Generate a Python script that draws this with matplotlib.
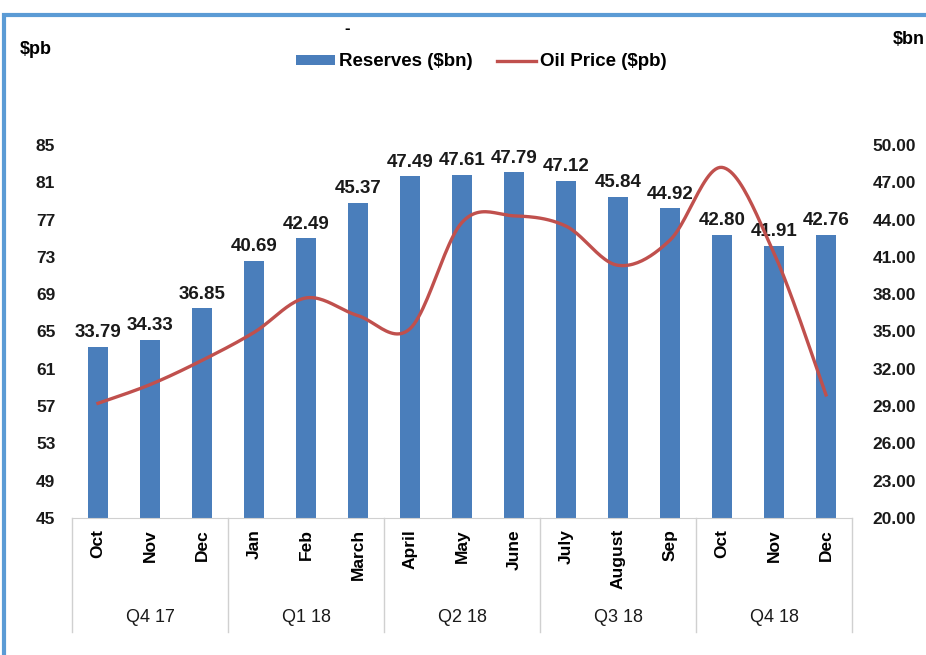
import numpy as np
import matplotlib.pyplot as plt
from matplotlib.patches import Rectangle
import matplotlib.transforms as mtransforms

plt.rcParams["font.family"] = ["Liberation Sans", "DejaVu Sans"]

months = ["Oct", "Nov", "Dec", "Jan", "Feb", "March", "April", "May", "June",
          "July", "August", "Sep", "Oct", "Nov", "Dec"]
quarters = ["Q4 17", "Q1 18", "Q2 18", "Q3 18", "Q4 18"]
reserves = [33.79, 34.33, 36.85, 40.69, 42.49, 45.37, 47.49, 47.61, 47.79,
            47.12, 45.84, 44.92, 42.80, 41.91, 42.76]
oil_price = [57.3, 59.3, 61.9, 64.9, 68.6, 66.7, 65.3, 76.7, 77.4,
             76.3, 72.1, 74.8, 82.6, 73.4, 58.2]

BAR_BLUE = "#4a7ebb"
LINE_RED = "#c0504d"
FRAME_BLUE = "#5b9bd5"


def smooth(x, y, n=24):
    """Catmull-Rom curve through the points (like Excel's smoothed line)."""
    x = np.asarray(x, float)
    y = np.asarray(y, float)
    px = np.concatenate([[x[0]], x, [x[-1]]])
    py = np.concatenate([[y[0]], y, [y[-1]]])
    xs, ys = [], []
    t = np.linspace(0, 1, n, endpoint=False)
    for i in range(1, len(px) - 2):
        for arr, out in ((px, xs), (py, ys)):
            p0, p1, p2, p3 = arr[i - 1], arr[i], arr[i + 1], arr[i + 2]
            out.extend(0.5 * ((2 * p1) + (-p0 + p2) * t
                              + (2 * p0 - 5 * p1 + 4 * p2 - p3) * t ** 2
                              + (-p0 + 3 * p1 - 3 * p2 + p3) * t ** 3))
    xs.append(x[-1])
    ys.append(y[-1])
    return np.array(xs), np.array(ys)


fig = plt.figure(figsize=(9.26, 6.55), dpi=100)
ax = fig.add_axes([72 / 926, 1 - 518 / 655, 780 / 926, 373 / 655])
ax2 = ax.twinx()

x = np.arange(len(months))

# bars on the right ($bn) axis
bars = ax.bar(x, reserves, width=0.4, color=BAR_BLUE, zorder=2, label="Reserves ($bn)")
for xi, v in zip(x, reserves):
    ax.annotate(f"{v:.2f}", (xi, v), xytext=(0, 4), textcoords="offset points",
                ha="center", va="bottom", fontsize=13.5, fontweight="bold", color="#1a1a1a")
ax.set_ylim(20, 50)
ax.set_yticks(np.arange(20, 50.1, 3))
ax.set_yticklabels([f"{v:.2f}" for v in np.arange(20, 50.1, 3)])
ax.yaxis.tick_right()
ax.set_xlim(-0.5, len(months) - 0.5)

# smoothed oil price line on the left ($pb) axis
sx, sy = smooth(x, oil_price)
line, = ax2.plot(sx, sy, color=LINE_RED, lw=2.4, label="Oil Price ($pb)")
ax2.set_ylim(45, 85)
ax2.set_yticks(np.arange(45, 86, 4))
ax2.yaxis.tick_left()

for a in (ax, ax2):
    for s in a.spines.values():
        s.set_visible(False)
ax.spines["bottom"].set_visible(True)
ax.spines["bottom"].set_color("#d0d0d0")

ax.tick_params(axis="y", length=0, pad=15, labelsize=12.5, labelcolor="#1a1a1a")
ax2.tick_params(axis="y", length=0, pad=12, labelsize=12.5, labelcolor="#1a1a1a")
for lbl in ax2.get_yticklabels():
    lbl.set_fontweight("bold")
for lbl in ax.get_yticklabels():
    lbl.set_fontweight("bold")

# two-level category axis
ax.set_xticks(x)
ax.set_xticklabels(months, rotation=90, fontsize=12.5, fontweight="bold", va="top")
ax.tick_params(axis="x", length=0, pad=8)

trans = mtransforms.blended_transform_factory(ax.transData, ax.transAxes)
sep_bottom = -(632 - 518) / 373
for b in np.arange(-0.5, len(months), 3):
    ax.plot([b, b], [0, sep_bottom], color="#d0d0d0", lw=1, transform=trans, clip_on=False)
for qi, q in enumerate(quarters):
    ax.text(qi * 3 + 1, -(617 - 518) / 373, q, transform=trans, ha="center", va="center",
            fontsize=13, color="#1a1a1a")

# axis unit labels
fig.text(20 / 926, 1 - 50 / 655, "$pb", fontsize=13, fontweight="bold", va="center", ha="left")
fig.text(893 / 926, 1 - 40 / 655, "$bn", fontsize=13, fontweight="bold", va="center", ha="left")
fig.text(347 / 926, 1 - 28 / 655, "-", fontsize=12, fontweight="bold", va="center", ha="center")

fig.legend(handles=[bars, line], loc="center", bbox_to_anchor=(481 / 926, 1 - 62 / 655),
           ncol=2, frameon=False, prop={"size": 13.5, "weight": "bold"},
           handlelength=2.1, handleheight=0.5, columnspacing=1.3, handletextpad=0.2)

# blue frame round the chart (extends off the picture on right and bottom)
fig.patches.append(Rectangle((4 / 926, -0.1), 1.2, 1 - 15 / 655 + 0.1, transform=fig.transFigure,
                             fill=False, edgecolor=FRAME_BLUE, lw=3, zorder=10))

fig.savefig("out.png", dpi=100)
